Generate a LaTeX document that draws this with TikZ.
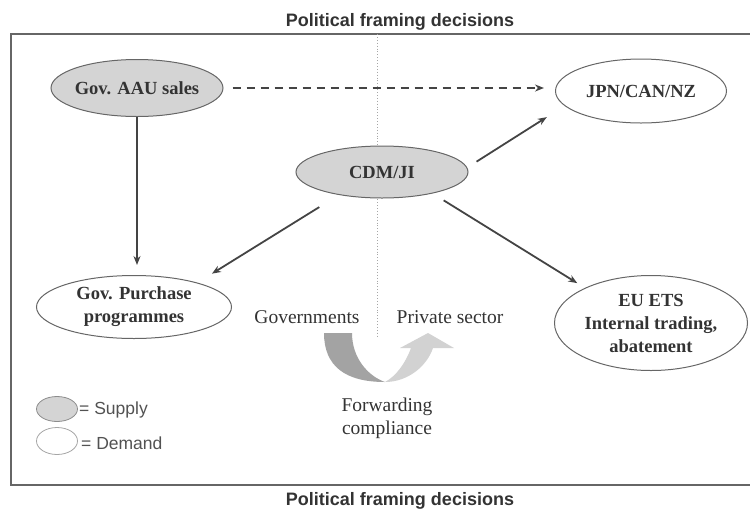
\documentclass[tikz,border=0pt]{standalone}
\usepackage{fontspec}
\setmainfont{Liberation Serif}
\newfontfamily\headfont{Liberation Sans}
\usetikzlibrary{shapes.geometric,arrows.meta}
\definecolor{ink}{HTML}{333333}
\definecolor{edge}{HTML}{666666}
\definecolor{supfill}{HTML}{D4D4D4}
\definecolor{arrowgrey}{HTML}{444444}
\definecolor{udark}{HTML}{A3A3A3}
\definecolor{ulight}{HTML}{D2D2D2}
\begin{document}
\begin{tikzpicture}[x=1pt,y=-1pt,
  lbl/.style={align=center,text=ink,inner sep=0pt,
    font=\fontsize{18.5}{23}\selectfont\bfseries},
  supply/.style={ellipse,draw=edge,line width=1pt,fill=supfill,inner sep=0pt},
  demand/.style={ellipse,draw=edge,line width=1pt,fill=white,inner sep=0pt},
  conn/.style={draw=arrowgrey,line width=1.8pt,-{Stealth[length=9pt,width=7pt]}},
  plain/.style={text=ink,inner sep=0pt,font=\fontsize{19.5}{23}\selectfont},
  heading/.style={text=ink,inner sep=0pt,font=\headfont\bfseries\fontsize{18}{21}\selectfont},
  keytext/.style={text=ink!85,inner sep=0pt,anchor=west,font=\headfont\fontsize{17.5}{20}\selectfont}]
\useasboundingbox (0,0) rectangle (750,515);

% outer frame and headings
\draw[edge,line width=1.5pt] (11,34) rectangle (770,485);
\node[heading] (toph) at (400,22) {Political framing decisions};
\node[heading] (both) at (400,501) {Political framing decisions};

% divider between governments and private sector
\coordinate (divtop) at (377,34);
\coordinate (divbot) at (377,338);
\draw[black!35,dotted,line width=0.9pt] (divtop) -- (divbot);

% actors
\node[supply,minimum width=172pt,minimum height=57pt,
  label={[lbl]center:Gov. AAU sales}] (aau) at (137,88) {};
\node[demand,minimum width=171pt,minimum height=64pt,
  label={[lbl]center:JPN/CAN/NZ}] (jpn) at (641,91) {};
\node[supply,minimum width=172pt,minimum height=52pt,
  label={[lbl]center:CDM/JI}] (cdm) at (382,172) {};
\node[demand,minimum width=195pt,minimum height=63pt,
  label={[lbl]center:{Gov. Purchase\\programmes}}] (purch) at (134,307) {};
\node[demand,minimum width=193pt,minimum height=95pt,
  label={[lbl]center:{EU ETS\\Internal trading,\\abatement}}] (euets) at (651,323) {};

% flows
\draw[conn,dashed,dash pattern=on 8pt off 6pt,shorten <=9pt,shorten >=11pt]
  (aau.east) -- (aau.east -| jpn.west);
\draw[conn,shorten >=10pt] (aau.south) -- (aau.south |- purch.north);
\draw[conn,shorten <=11pt,shorten >=21pt] (cdm.3) -- (jpn.191);
\draw[conn,shorten <=23pt,shorten >=17pt] (cdm.208) -- (purch.21);
\draw[conn,shorten <=13pt,shorten >=9pt] (cdm.337) -- (euets.152);

% sector labels and the forwarding U-turn
\node[plain] (gov) at (307,317) {Governments};
\node[plain] (priv) at (450,317) {Private sector};
\fill[udark] (324,333) .. controls (324,366) and (345,382) .. (385,382)
  .. controls (368,376) and (352,358) .. (352,333) -- cycle;
\fill[ulight] (385,382) .. controls (408,382) and (427,366) .. (433,348)
  -- (454,348) -- (428,333) -- (400,348) -- (411,348)
  .. controls (405,364) and (396,376) .. (385,382) -- cycle;
\node[plain,align=center] (fwd) at (387,418) {Forwarding\\compliance};

% key
\node[ellipse,draw=black!45,fill=supfill,line width=0.8pt,minimum width=41pt,
  minimum height=25pt,inner sep=0pt] (keys) at (57,409) {};
\node[ellipse,draw=black!35,fill=white,line width=0.8pt,minimum width=41pt,
  minimum height=27pt,inner sep=0pt] (keyd) at (57,441) {};
\node[keytext] (keyst) at (79,410) {= Supply};
\node[keytext] (keydt) at (81,443) {= Demand};
\end{tikzpicture}
\end{document}
